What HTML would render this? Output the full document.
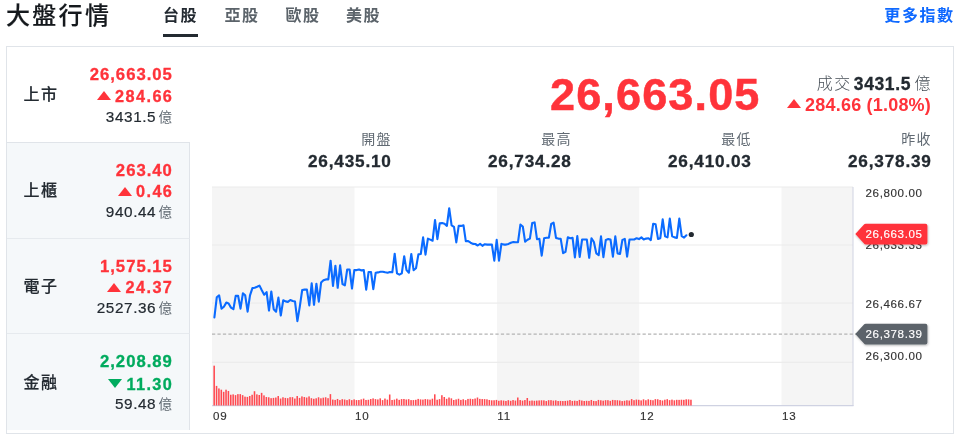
<!DOCTYPE html>
<html lang="zh-Hant">
<head>
<meta charset="utf-8">
<title>大盤行情</title>
<style>
*{box-sizing:border-box;margin:0;padding:0}
html,body{width:958px;height:443px;background:#fff;overflow:hidden}
body{position:relative;font-family:"Liberation Sans","Noto Sans CJK TC",sans-serif;color:#232a31}
.abs{position:absolute;white-space:nowrap;line-height:1}
.title{left:6px;top:4px;font-size:24px;font-weight:500;letter-spacing:2.3px;color:#15191d;-webkit-text-stroke:0.15px #15191d}
.tab{top:8px;font-size:16px;letter-spacing:1.5px;color:#5b636a;font-weight:700}
.tab.on{color:#232a31;font-weight:700}
.uline{left:163px;top:33.5px;width:35px;height:3.5px;background:#232a31}
.more{right:3.3px;top:8px;font-size:16px;letter-spacing:1.6px;font-weight:700;color:#0f69ff}
.card{left:6px;top:46px;width:948px;height:388px;border:1px solid #e0e4e9;background:#fff}
.item{left:7px;width:183px;height:95.75px;background:#f5f8fa;border-top:1px solid #e0e4e9;border-right:1px solid #e0e4e9}
.item.sel{background:#fff;border:none}
.nm{left:23.5px;font-size:16px;letter-spacing:1.5px;font-weight:500;color:#232a31;-webkit-text-stroke:0.2px #232a31}
.r{right:786.1px;text-align:right}
.px{font-size:16.7px;font-weight:700;letter-spacing:1.0px;margin-right:-1.0px;-webkit-text-stroke:0.3px}
.ch{font-size:16.3px;font-weight:700;letter-spacing:1.4px;margin-right:-1.4px;-webkit-text-stroke:0.3px}
.vo{font-size:15.3px;color:#232a31;letter-spacing:0.6px;-webkit-text-stroke:0.2px #232a31}
.vo i{font-style:normal;font-size:13.5px;color:#5f6871;letter-spacing:0;margin-left:2.2px;-webkit-text-stroke:0}
.up{color:#ff333a}.dn{color:#00ab5e}
.tri{display:inline-block;width:0;height:0;border-left:7px solid transparent;border-right:7px solid transparent;margin-right:4.4px;vertical-align:baseline;position:relative}
.tri.u{border-bottom:9px solid #ff333a;top:-1.5px}
.tri.d{border-top:9px solid #00ab5e;top:-1.5px}
.big{right:197.5px;top:71.5px;font-size:45px;font-weight:700;color:#ff333a;letter-spacing:1.15px;-webkit-text-stroke:0.5px #ff333a}
.deal{right:26px;top:76px;font-size:17.5px;font-weight:700;color:#232a31;letter-spacing:0.6px;-webkit-text-stroke:0.3px #232a31}
.deal i{font-style:normal;font-weight:300;font-size:16px;color:#464e56;letter-spacing:1.4px}
.hchg{right:27px;top:96px;font-size:18px;font-weight:700;color:#ff333a;letter-spacing:0.2px}
.hchg .tri.u{top:-3.3px}
.deal i{position:relative;top:-1px;-webkit-text-stroke:0}
.sl{font-size:14px;letter-spacing:1.2px;margin-right:-1.2px;color:#616a73;font-weight:400;top:132px}
.sv{font-size:17.2px;font-weight:700;color:#232a31;top:153px;letter-spacing:0.8px;margin-right:-1.2px;-webkit-text-stroke:0.3px #232a31}
svg{position:absolute;left:0;top:0}
svg text{font-family:"Liberation Sans",sans-serif}
</style>
</head>
<body>
<div class="abs title">大盤行情</div>
<div class="abs tab on" style="left:163px">台股</div>
<div class="abs tab" style="left:224.5px">亞股</div>
<div class="abs tab" style="left:285.5px">歐股</div>
<div class="abs tab" style="left:346px">美股</div>
<div class="abs uline"></div>
<div class="abs more">更多指數</div>

<div class="abs card"></div>

<div class="abs item sel" style="top:47px"></div>
<div class="abs item" style="top:142px"></div>
<div class="abs item" style="top:237.5px;border-top-color:#e6eaee"></div>
<div class="abs item" style="top:333.25px;height:96.75px;border-top-color:#e6eaee"></div>

<div class="abs nm" style="top:87.00px">上市</div>
<div class="abs r px up" style="top:67.00px">26,663.05</div>
<div class="abs r ch up" style="top:87.60px"><span class="tri u"></span>284.66</div>
<div class="abs r vo" style="top:108.65px">3431.5<i>億</i></div>

<div class="abs nm" style="top:182.75px">上櫃</div>
<div class="abs r px up" style="top:162.75px">263.40</div>
<div class="abs r ch up" style="top:183.35px"><span class="tri u"></span>0.46</div>
<div class="abs r vo" style="top:204.40px">940.44<i>億</i></div>

<div class="abs nm" style="top:278.50px">電子</div>
<div class="abs r px up" style="top:258.50px">1,575.15</div>
<div class="abs r ch up" style="top:279.10px"><span class="tri u"></span>24.37</div>
<div class="abs r vo" style="top:300.15px">2527.36<i>億</i></div>

<div class="abs nm" style="top:374.75px">金融</div>
<div class="abs r px dn" style="top:354.25px">2,208.89</div>
<div class="abs r ch dn" style="top:375.85px"><span class="tri d"></span>11.30</div>
<div class="abs r vo" style="top:396.40px">59.48<i>億</i></div>

<div class="abs big">26,663.05</div>
<div class="abs deal"><i style="margin-right:2.3px">成交</i>3431.5<i style="margin-left:3.6px">億</i></div>
<div class="abs hchg"><span class="tri u"></span>284.66 (1.08%)</div>

<div class="abs sl" style="right:567.5px">開盤</div>
<div class="abs sv" style="right:567.5px">26,435.10</div>
<div class="abs sl" style="right:387.5px">最高</div>
<div class="abs sv" style="right:387.5px">26,734.28</div>
<div class="abs sl" style="right:207.5px">最低</div>
<div class="abs sv" style="right:207.5px">26,410.03</div>
<div class="abs sl" style="right:27.5px">昨收</div>
<div class="abs sv" style="right:27.5px">26,378.39</div>

<svg width="958" height="443" viewBox="0 0 958 443">
<defs>
<filter id="sh" x="-20%" y="-30%" width="140%" height="170%"><feDropShadow dx="0.5" dy="1" stdDeviation="1" flood-color="#000" flood-opacity="0.3"/></filter>
</defs>
<!-- bands -->
<rect x="212" y="187" width="142.5" height="219" fill="#f5f5f5"/>
<rect x="497" y="187" width="142.2" height="219" fill="#f5f5f5"/>
<rect x="781.5" y="187" width="71.5" height="219" fill="#f5f5f5"/>
<!-- grid -->
<g stroke="#ececec" stroke-width="1.2">
<line x1="212" y1="187" x2="853" y2="187"/>
<line x1="212" y1="245" x2="853" y2="245"/>
<line x1="212" y1="303.2" x2="853" y2="303.2"/>
<line x1="212" y1="362.3" x2="853" y2="362.3"/>
</g>
<line x1="853" y1="187" x2="853" y2="406" stroke="#d3d6e4" stroke-width="1.1"/>
<line x1="212" y1="405.7" x2="853.5" y2="405.7" stroke="#cfd2e2" stroke-width="1.2"/>
<!-- prev close dashed -->
<line x1="212" y1="334.2" x2="856" y2="334.2" stroke="#b4b4b4" stroke-width="1.2" stroke-dasharray="3.25 2.2"/>
<!-- volume -->
<g fill="#ff4950">
<rect x="213.40" y="365.67" width="1.55" height="39.83"/>
<rect x="215.77" y="385.90" width="1.55" height="19.60"/>
<rect x="218.14" y="388.43" width="1.55" height="17.07"/>
<rect x="220.52" y="389.69" width="1.55" height="15.81"/>
<rect x="222.89" y="391.84" width="1.55" height="13.66"/>
<rect x="225.26" y="389.69" width="1.55" height="15.81"/>
<rect x="227.63" y="390.96" width="1.55" height="14.54"/>
<rect x="230.00" y="394.75" width="1.55" height="10.75"/>
<rect x="232.38" y="394.37" width="1.55" height="11.13"/>
<rect x="234.75" y="395.13" width="1.55" height="10.37"/>
<rect x="237.12" y="394.12" width="1.55" height="11.38"/>
<rect x="239.49" y="394.12" width="1.55" height="11.38"/>
<rect x="241.86" y="395.13" width="1.55" height="10.37"/>
<rect x="244.24" y="396.65" width="1.55" height="8.85"/>
<rect x="246.61" y="396.90" width="1.55" height="8.60"/>
<rect x="248.98" y="396.02" width="1.55" height="9.48"/>
<rect x="251.35" y="394.75" width="1.55" height="10.75"/>
<rect x="253.72" y="391.21" width="1.55" height="14.29"/>
<rect x="256.10" y="394.37" width="1.55" height="11.13"/>
<rect x="258.47" y="395.00" width="1.55" height="10.50"/>
<rect x="260.84" y="392.85" width="1.55" height="12.65"/>
<rect x="263.21" y="395.38" width="1.55" height="10.12"/>
<rect x="265.58" y="397.03" width="1.55" height="8.47"/>
<rect x="267.96" y="397.28" width="1.55" height="8.22"/>
<rect x="270.33" y="398.17" width="1.55" height="7.33"/>
<rect x="272.70" y="397.91" width="1.55" height="7.59"/>
<rect x="275.07" y="397.53" width="1.55" height="7.97"/>
<rect x="277.44" y="396.02" width="1.55" height="9.48"/>
<rect x="279.82" y="398.55" width="1.55" height="6.95"/>
<rect x="282.19" y="397.28" width="1.55" height="8.22"/>
<rect x="284.56" y="397.91" width="1.55" height="7.59"/>
<rect x="286.93" y="398.17" width="1.55" height="7.33"/>
<rect x="289.30" y="397.15" width="1.55" height="8.35"/>
<rect x="291.68" y="397.15" width="1.55" height="8.35"/>
<rect x="294.05" y="398.55" width="1.55" height="6.95"/>
<rect x="296.42" y="396.02" width="1.55" height="9.48"/>
<rect x="298.79" y="397.91" width="1.55" height="7.59"/>
<rect x="301.16" y="396.40" width="1.55" height="9.10"/>
<rect x="303.54" y="397.03" width="1.55" height="8.47"/>
<rect x="305.91" y="397.53" width="1.55" height="7.97"/>
<rect x="308.28" y="396.40" width="1.55" height="9.10"/>
<rect x="310.65" y="398.17" width="1.55" height="7.33"/>
<rect x="313.02" y="398.80" width="1.55" height="6.70"/>
<rect x="315.40" y="398.29" width="1.55" height="7.21"/>
<rect x="317.77" y="397.28" width="1.55" height="8.22"/>
<rect x="320.14" y="398.29" width="1.55" height="7.21"/>
<rect x="322.51" y="397.66" width="1.55" height="7.84"/>
<rect x="324.88" y="397.28" width="1.55" height="8.22"/>
<rect x="327.26" y="398.17" width="1.55" height="7.33"/>
<rect x="329.63" y="394.12" width="1.55" height="11.38"/>
<rect x="332.00" y="399.58" width="1.55" height="5.92"/>
<rect x="334.37" y="399.91" width="1.55" height="5.59"/>
<rect x="336.74" y="398.96" width="1.55" height="6.54"/>
<rect x="339.12" y="400.06" width="1.55" height="5.44"/>
<rect x="341.49" y="399.18" width="1.55" height="6.32"/>
<rect x="343.86" y="399.51" width="1.55" height="5.99"/>
<rect x="346.23" y="400.09" width="1.55" height="5.41"/>
<rect x="348.60" y="399.24" width="1.55" height="6.26"/>
<rect x="350.98" y="400.13" width="1.55" height="5.37"/>
<rect x="353.35" y="399.38" width="1.55" height="6.12"/>
<rect x="355.72" y="400.07" width="1.55" height="5.43"/>
<rect x="358.09" y="400.03" width="1.55" height="5.47"/>
<rect x="360.46" y="399.39" width="1.55" height="6.11"/>
<rect x="362.84" y="398.63" width="1.55" height="6.87"/>
<rect x="365.21" y="399.96" width="1.55" height="5.54"/>
<rect x="367.58" y="399.78" width="1.55" height="5.72"/>
<rect x="369.95" y="399.01" width="1.55" height="6.49"/>
<rect x="372.32" y="398.40" width="1.55" height="7.10"/>
<rect x="374.70" y="399.10" width="1.55" height="6.40"/>
<rect x="377.07" y="399.45" width="1.55" height="6.05"/>
<rect x="379.44" y="398.35" width="1.55" height="7.15"/>
<rect x="381.81" y="400.11" width="1.55" height="5.39"/>
<rect x="384.18" y="398.57" width="1.55" height="6.93"/>
<rect x="386.56" y="399.65" width="1.55" height="5.85"/>
<rect x="388.93" y="394.50" width="1.55" height="11.00"/>
<rect x="391.30" y="399.98" width="1.55" height="5.52"/>
<rect x="393.67" y="399.61" width="1.55" height="5.89"/>
<rect x="396.04" y="398.65" width="1.55" height="6.85"/>
<rect x="398.42" y="399.86" width="1.55" height="5.64"/>
<rect x="400.79" y="399.09" width="1.55" height="6.41"/>
<rect x="403.16" y="398.99" width="1.55" height="6.51"/>
<rect x="405.53" y="399.49" width="1.55" height="6.01"/>
<rect x="407.90" y="399.16" width="1.55" height="6.34"/>
<rect x="410.28" y="400.08" width="1.55" height="5.42"/>
<rect x="412.65" y="400.09" width="1.55" height="5.41"/>
<rect x="415.02" y="399.81" width="1.55" height="5.69"/>
<rect x="417.39" y="398.91" width="1.55" height="6.59"/>
<rect x="419.76" y="399.39" width="1.55" height="6.11"/>
<rect x="422.14" y="399.60" width="1.55" height="5.90"/>
<rect x="424.51" y="399.09" width="1.55" height="6.41"/>
<rect x="426.88" y="399.34" width="1.55" height="6.16"/>
<rect x="429.25" y="399.63" width="1.55" height="5.87"/>
<rect x="431.62" y="398.69" width="1.55" height="6.81"/>
<rect x="434.00" y="394.30" width="1.55" height="11.20"/>
<rect x="436.37" y="399.74" width="1.55" height="5.76"/>
<rect x="438.74" y="399.11" width="1.55" height="6.39"/>
<rect x="441.11" y="395.20" width="1.55" height="10.30"/>
<rect x="443.48" y="397.00" width="1.55" height="8.50"/>
<rect x="445.86" y="398.81" width="1.55" height="6.69"/>
<rect x="448.23" y="397.50" width="1.55" height="8.00"/>
<rect x="450.60" y="398.34" width="1.55" height="7.16"/>
<rect x="452.97" y="399.98" width="1.55" height="5.52"/>
<rect x="455.34" y="399.41" width="1.55" height="6.09"/>
<rect x="457.72" y="398.76" width="1.55" height="6.74"/>
<rect x="460.09" y="399.91" width="1.55" height="5.59"/>
<rect x="462.46" y="399.27" width="1.55" height="6.23"/>
<rect x="464.83" y="400.13" width="1.55" height="5.37"/>
<rect x="467.20" y="398.93" width="1.55" height="6.57"/>
<rect x="469.58" y="398.75" width="1.55" height="6.75"/>
<rect x="471.95" y="399.11" width="1.55" height="6.39"/>
<rect x="474.32" y="398.54" width="1.55" height="6.96"/>
<rect x="476.69" y="397.50" width="1.55" height="8.00"/>
<rect x="479.06" y="398.88" width="1.55" height="6.62"/>
<rect x="481.44" y="399.07" width="1.55" height="6.43"/>
<rect x="483.81" y="399.10" width="1.55" height="6.40"/>
<rect x="486.18" y="399.33" width="1.55" height="6.17"/>
<rect x="488.55" y="399.97" width="1.55" height="5.53"/>
<rect x="490.92" y="400.30" width="1.55" height="5.20"/>
<rect x="493.30" y="400.26" width="1.55" height="5.24"/>
<rect x="495.67" y="399.91" width="1.55" height="5.59"/>
<rect x="498.04" y="400.76" width="1.55" height="4.74"/>
<rect x="500.41" y="400.30" width="1.55" height="5.20"/>
<rect x="502.78" y="400.55" width="1.55" height="4.95"/>
<rect x="505.16" y="400.96" width="1.55" height="4.54"/>
<rect x="507.53" y="400.18" width="1.55" height="5.32"/>
<rect x="509.90" y="400.80" width="1.55" height="4.70"/>
<rect x="512.27" y="400.05" width="1.55" height="5.45"/>
<rect x="514.64" y="400.56" width="1.55" height="4.94"/>
<rect x="517.02" y="397.50" width="1.55" height="8.00"/>
<rect x="519.39" y="400.06" width="1.55" height="5.44"/>
<rect x="521.76" y="400.60" width="1.55" height="4.90"/>
<rect x="524.13" y="400.04" width="1.55" height="5.46"/>
<rect x="526.50" y="398.00" width="1.55" height="7.50"/>
<rect x="528.88" y="400.82" width="1.55" height="4.68"/>
<rect x="531.25" y="400.52" width="1.55" height="4.98"/>
<rect x="533.62" y="400.78" width="1.55" height="4.72"/>
<rect x="535.99" y="400.60" width="1.55" height="4.90"/>
<rect x="538.36" y="400.42" width="1.55" height="5.08"/>
<rect x="540.74" y="400.27" width="1.55" height="5.23"/>
<rect x="543.11" y="400.36" width="1.55" height="5.14"/>
<rect x="545.48" y="401.04" width="1.55" height="4.46"/>
<rect x="547.85" y="400.16" width="1.55" height="5.34"/>
<rect x="550.22" y="400.14" width="1.55" height="5.36"/>
<rect x="552.60" y="400.62" width="1.55" height="4.88"/>
<rect x="554.97" y="400.34" width="1.55" height="5.16"/>
<rect x="557.34" y="401.02" width="1.55" height="4.48"/>
<rect x="559.71" y="400.91" width="1.55" height="4.59"/>
<rect x="562.08" y="401.04" width="1.55" height="4.46"/>
<rect x="564.46" y="400.92" width="1.55" height="4.58"/>
<rect x="566.83" y="400.66" width="1.55" height="4.84"/>
<rect x="569.20" y="400.05" width="1.55" height="5.45"/>
<rect x="571.57" y="400.92" width="1.55" height="4.58"/>
<rect x="573.94" y="400.68" width="1.55" height="4.82"/>
<rect x="576.32" y="400.95" width="1.55" height="4.55"/>
<rect x="578.69" y="399.91" width="1.55" height="5.59"/>
<rect x="581.06" y="400.52" width="1.55" height="4.98"/>
<rect x="583.43" y="400.98" width="1.55" height="4.52"/>
<rect x="585.80" y="400.78" width="1.55" height="4.72"/>
<rect x="588.18" y="400.91" width="1.55" height="4.59"/>
<rect x="590.55" y="399.96" width="1.55" height="5.54"/>
<rect x="592.92" y="400.92" width="1.55" height="4.58"/>
<rect x="595.29" y="401.07" width="1.55" height="4.43"/>
<rect x="597.66" y="399.93" width="1.55" height="5.57"/>
<rect x="600.04" y="400.26" width="1.55" height="5.24"/>
<rect x="602.41" y="400.66" width="1.55" height="4.84"/>
<rect x="604.78" y="400.17" width="1.55" height="5.33"/>
<rect x="607.15" y="400.17" width="1.55" height="5.33"/>
<rect x="609.52" y="400.83" width="1.55" height="4.67"/>
<rect x="611.90" y="399.92" width="1.55" height="5.58"/>
<rect x="614.27" y="400.13" width="1.55" height="5.37"/>
<rect x="616.64" y="400.21" width="1.55" height="5.29"/>
<rect x="619.01" y="400.48" width="1.55" height="5.02"/>
<rect x="621.38" y="401.07" width="1.55" height="4.43"/>
<rect x="623.76" y="400.76" width="1.55" height="4.74"/>
<rect x="626.13" y="400.27" width="1.55" height="5.23"/>
<rect x="628.50" y="400.56" width="1.55" height="4.94"/>
<rect x="630.87" y="399.07" width="1.55" height="6.43"/>
<rect x="633.24" y="400.16" width="1.55" height="5.34"/>
<rect x="635.62" y="399.56" width="1.55" height="5.94"/>
<rect x="637.99" y="399.78" width="1.55" height="5.72"/>
<rect x="640.36" y="400.37" width="1.55" height="5.13"/>
<rect x="642.73" y="399.33" width="1.55" height="6.17"/>
<rect x="645.10" y="400.23" width="1.55" height="5.27"/>
<rect x="647.48" y="399.30" width="1.55" height="6.20"/>
<rect x="649.85" y="399.90" width="1.55" height="5.60"/>
<rect x="652.22" y="400.24" width="1.55" height="5.26"/>
<rect x="654.59" y="399.14" width="1.55" height="6.36"/>
<rect x="656.96" y="399.26" width="1.55" height="6.24"/>
<rect x="659.34" y="399.97" width="1.55" height="5.53"/>
<rect x="661.71" y="400.48" width="1.55" height="5.02"/>
<rect x="664.08" y="399.71" width="1.55" height="5.79"/>
<rect x="666.45" y="399.19" width="1.55" height="6.31"/>
<rect x="668.82" y="400.12" width="1.55" height="5.38"/>
<rect x="671.20" y="399.62" width="1.55" height="5.88"/>
<rect x="673.57" y="400.30" width="1.55" height="5.20"/>
<rect x="675.94" y="399.81" width="1.55" height="5.69"/>
<rect x="678.31" y="399.87" width="1.55" height="5.63"/>
<rect x="680.68" y="399.70" width="1.55" height="5.80"/>
<rect x="683.06" y="399.84" width="1.55" height="5.66"/>
<rect x="685.43" y="399.30" width="1.55" height="6.20"/>
<rect x="687.80" y="399.41" width="1.55" height="6.09"/>
<rect x="690.17" y="399.72" width="1.55" height="5.78"/>
</g>
<!-- price line -->
<path d="M214.4 317.4 L216.8 297.2 L219.1 295.3 L221.5 308.6 L223.9 306.7 L226.3 302.6 L228.6 303.5 L231.0 307.6 L233.4 309.2 L235.7 295.9 L238.1 295.7 L240.5 308.6 L242.9 293.4 L245.2 295.3 L247.6 311.7 L250.0 295.3 L252.4 288.1 L254.7 287.7 L257.1 286.8 L259.5 285.6 L261.8 290.2 L264.2 294.7 L266.6 292.1 L269.0 310.5 L271.3 291.5 L273.7 309.2 L276.1 311.7 L278.4 297.6 L280.8 315.5 L283.2 300.3 L285.6 301.4 L287.9 301.9 L290.3 300.0 L292.7 301.0 L295.0 301.6 L297.4 321.2 L299.8 306.7 L302.2 290.0 L304.5 289.6 L306.9 289.6 L309.3 305.4 L311.7 283.3 L314.0 304.8 L316.4 283.7 L318.8 301.6 L321.1 282.6 L323.5 280.3 L325.9 279.4 L328.3 279.4 L330.6 260.7 L333.0 286.0 L335.4 265.7 L337.7 287.8 L340.1 265.3 L342.5 284.0 L344.9 285.3 L347.2 269.5 L349.6 269.5 L352.0 288.5 L354.3 270.1 L356.7 270.1 L359.1 269.5 L361.5 270.4 L363.8 270.1 L366.2 289.7 L368.6 272.0 L371.0 272.0 L373.3 289.1 L375.7 272.7 L378.1 272.4 L380.4 271.8 L382.8 271.7 L385.2 272.3 L387.6 272.7 L389.9 272.0 L392.3 272.3 L394.7 253.7 L397.0 273.3 L399.4 274.6 L401.8 273.3 L404.2 256.2 L406.5 270.1 L408.9 272.7 L411.3 254.0 L413.6 270.1 L416.0 268.2 L418.4 254.4 L420.8 254.0 L423.1 237.3 L425.5 254.6 L427.9 238.6 L430.3 239.6 L432.6 240.7 L435.0 220.0 L437.4 239.2 L439.7 223.4 L442.1 223.1 L444.5 223.8 L446.9 225.9 L449.2 208.2 L451.6 225.3 L454.0 226.8 L456.3 242.4 L458.7 225.9 L461.1 225.9 L463.5 225.3 L465.8 241.1 L468.2 241.1 L470.6 242.7 L472.9 243.9 L475.3 244.0 L477.7 245.5 L480.1 243.9 L482.4 245.8 L484.8 244.2 L487.2 244.6 L489.6 244.6 L491.9 244.6 L494.3 260.7 L496.7 239.8 L499.0 260.7 L501.4 243.9 L503.8 244.6 L506.2 244.6 L508.5 243.9 L510.9 242.7 L513.3 242.0 L515.6 242.3 L518.0 242.1 L520.4 224.6 L522.8 226.5 L525.1 241.7 L527.5 239.8 L529.9 238.6 L532.2 223.1 L534.6 222.4 L537.0 239.2 L539.4 238.8 L541.7 255.6 L544.1 238.3 L546.5 237.7 L548.9 237.7 L551.2 224.0 L553.6 222.7 L556.0 237.9 L558.3 238.6 L560.7 238.8 L563.1 253.1 L565.5 251.8 L567.8 237.3 L570.2 238.3 L572.6 237.9 L574.9 257.5 L577.3 236.0 L579.7 256.9 L582.1 239.5 L584.4 239.5 L586.8 239.5 L589.2 257.8 L591.5 238.2 L593.9 242.0 L596.3 253.4 L598.7 255.1 L601.0 236.3 L603.4 257.2 L605.8 239.9 L608.2 239.1 L610.5 239.5 L612.9 256.6 L615.3 236.3 L617.6 253.4 L620.0 254.0 L622.4 239.9 L624.8 238.9 L627.1 256.6 L629.5 239.5 L631.9 239.5 L634.2 239.5 L636.6 238.2 L639.0 239.1 L641.4 237.4 L643.7 239.5 L646.1 238.6 L648.5 238.2 L650.8 240.1 L653.2 223.7 L655.6 224.3 L658.0 238.9 L660.3 238.2 L662.7 219.3 L665.1 236.3 L667.5 237.4 L669.8 218.6 L672.2 236.3 L674.6 237.4 L676.9 237.9 L679.3 218.6 L681.7 236.1 L684.1 237.6 L686.4 235.3" fill="none" stroke="#0b6bff" stroke-width="2.1" stroke-linejoin="round" stroke-linecap="round"/>
<circle cx="691.3" cy="234.5" r="2.6" fill="#232a31"/>
<!-- axis labels -->
<g font-size="11.6" fill="#333" letter-spacing="0.62" stroke="#333" stroke-width="0.15">
<text x="865.5" y="196.7">26,800.00</text>
<text x="865.5" y="248.6">26,633.33</text>
<text x="865.5" y="307.7">26,466.67</text>
<text x="865.5" y="359.8">26,300.00</text>
</g>
<g font-size="11.6" fill="#333" letter-spacing="0.8" stroke="#333" stroke-width="0.15">
<text x="213" y="420">09</text>
<text x="355" y="420">10</text>
<text x="497.3" y="420">11</text>
<text x="640" y="420">12</text>
<text x="782" y="420">13</text>
</g>
<!-- tags -->
<g filter="url(#sh)">
<path d="M855.3 234 L864 224.5 Q864.3 223.8 866 223.8 L925.4 223.8 Q927.4 223.8 927.4 225.8 L927.4 242.4 Q927.4 244.4 925.4 244.4 L866 244.4 Q864.3 244.4 864 243.5 Z" fill="#ff333a"/>
<path d="M855.3 334 L864 324.5 Q864.3 323.8 866 323.8 L925.4 323.8 Q927.4 323.8 927.4 325.8 L927.4 342.4 Q927.4 344.4 925.4 344.4 L866 344.4 Q864.3 344.4 864 343.5 Z" fill="#5b636a"/>
</g>
<g font-size="11.6" fill="#fff" letter-spacing="0.62" stroke="#fff" stroke-width="0.15">
<text x="865.5" y="238.3">26,663.05</text>
<text x="865.5" y="338.3">26,378.39</text>
</g>
</svg>
</body>
</html>
